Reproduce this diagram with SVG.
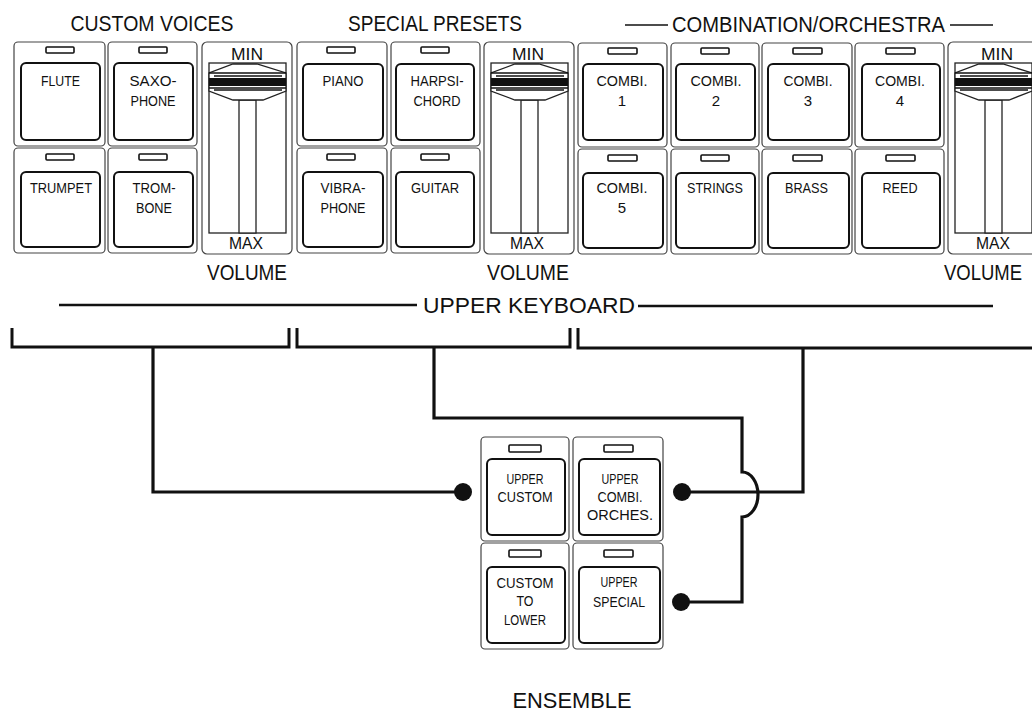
<svg xmlns="http://www.w3.org/2000/svg" width="1032" height="712" viewBox="0 0 1032 712">
<style>
text{font-family:"Liberation Sans",Arial,sans-serif;fill:#111;text-anchor:middle}
.h{font-size:22px}
.b{font-size:15px}
.m{font-size:17px}
.cell{fill:#fff;stroke:#444;stroke-width:1.2}
.btn{fill:#fff;stroke:#111;stroke-width:2}
.led{fill:#fff;stroke:#111;stroke-width:1.6}
.sl{fill:#fff;stroke:#222;stroke-width:1.3}
.ln{fill:none;stroke:#111;stroke-width:1.6}
.con{fill:none;stroke:#111;stroke-width:3.2;stroke-linejoin:miter}
.dot{fill:#111}
.brk{fill:none;stroke:#111;stroke-width:3}
.kb{fill:none;stroke:#111;stroke-width:2.6}
</style>
<defs>
<g id="slider">
<rect class="cell" x="0" y="0" width="90" height="212" rx="5"/>
<rect class="sl" x="7" y="21" width="77" height="170"/>
<rect class="sl" x="37" y="58" width="17" height="133"/>
<polygon class="sl" points="31,22 55,22 84,31 84,49 61,58 31,58 7,49 7,31"/>
<line class="ln" x1="7" y1="31" x2="84" y2="31" stroke-width="1.2"/>
<line class="ln" x1="12" y1="34" x2="80" y2="34" stroke-width="1"/>
<rect x="7" y="36" width="77" height="8" fill="#111"/>
<line class="ln" x1="7" y1="46" x2="84" y2="46" stroke-width="1.2"/>
<line class="ln" x1="12" y1="48" x2="80" y2="48" stroke-width="1"/>
</g>
</defs>

<g id="headers">
<text class="h" x="152" y="31" textLength="163" lengthAdjust="spacingAndGlyphs">CUSTOM VOICES</text>
<text class="h" x="435" y="31" textLength="174" lengthAdjust="spacingAndGlyphs">SPECIAL PRESETS</text>
<text class="h" x="808.5" y="32" textLength="273" lengthAdjust="spacingAndGlyphs">COMBINATION/ORCHESTRA</text>
<line class="ln" x1="625" y1="25" x2="668" y2="25"/>
<line class="ln" x1="950" y1="25" x2="993" y2="25"/>
</g>

<!-- CUSTOM VOICES -->
<g id="flute">
<rect class="cell" x="14" y="42" width="91" height="104" rx="4"/>
<rect class="led" x="46" y="47" width="28" height="6" rx="1"/>
<rect class="btn" x="21" y="63" width="79" height="77" rx="5"/>
<text class="b" x="60.5" y="86" textLength="39" lengthAdjust="spacingAndGlyphs">FLUTE</text>
</g>
<g id="saxophone">
<rect class="cell" x="108" y="42" width="89" height="104" rx="4"/>
<rect class="led" x="139" y="47" width="28" height="6" rx="1"/>
<rect class="btn" x="114" y="63" width="79" height="77" rx="5"/>
<text class="b" x="153" y="86" textLength="47" lengthAdjust="spacingAndGlyphs">SAXO-</text>
<text class="b" x="153" y="106" textLength="45" lengthAdjust="spacingAndGlyphs">PHONE</text>
</g>
<g id="trumpet">
<rect class="cell" x="14" y="148" width="91" height="105" rx="4"/>
<rect class="led" x="46" y="154" width="28" height="6" rx="1"/>
<rect class="btn" x="21" y="172" width="79" height="75" rx="5"/>
<text class="b" x="61" y="193" textLength="62" lengthAdjust="spacingAndGlyphs">TRUMPET</text>
</g>
<g id="trombone">
<rect class="cell" x="108" y="148" width="89" height="105" rx="4"/>
<rect class="led" x="139" y="154" width="28" height="6" rx="1"/>
<rect class="btn" x="114" y="172" width="79" height="75" rx="5"/>
<text class="b" x="154" y="193" textLength="43" lengthAdjust="spacingAndGlyphs">TROM-</text>
<text class="b" x="154" y="213" textLength="36" lengthAdjust="spacingAndGlyphs">BONE</text>
</g>
<g id="volume-custom">
<use href="#slider" x="202" y="42"/>
<text class="m" x="247" y="60" textLength="32" lengthAdjust="spacingAndGlyphs">MIN</text>
<text class="m" x="246" y="249" textLength="34" lengthAdjust="spacingAndGlyphs">MAX</text>
<text class="h" x="247" y="280" textLength="80" lengthAdjust="spacingAndGlyphs">VOLUME</text>
</g>

<!-- SPECIAL PRESETS -->
<g id="piano">
<rect class="cell" x="297" y="42" width="90" height="104" rx="4"/>
<rect class="led" x="327" y="47" width="28" height="6" rx="1"/>
<rect class="btn" x="303" y="64" width="80" height="76" rx="5"/>
<text class="b" x="343" y="86" textLength="41" lengthAdjust="spacingAndGlyphs">PIANO</text>
</g>
<g id="harpsichord">
<rect class="cell" x="391" y="42" width="89" height="104" rx="4"/>
<rect class="led" x="421" y="47" width="28" height="6" rx="1"/>
<rect class="btn" x="396" y="64" width="78" height="76" rx="5"/>
<text class="b" x="437" y="86" textLength="53" lengthAdjust="spacingAndGlyphs">HARPSI-</text>
<text class="b" x="437" y="106" textLength="47" lengthAdjust="spacingAndGlyphs">CHORD</text>
</g>
<g id="vibraphone">
<rect class="cell" x="297" y="148" width="90" height="105" rx="4"/>
<rect class="led" x="327" y="154" width="28" height="6" rx="1"/>
<rect class="btn" x="303" y="172" width="80" height="75" rx="5"/>
<text class="b" x="343" y="193" textLength="45" lengthAdjust="spacingAndGlyphs">VIBRA-</text>
<text class="b" x="343" y="213" textLength="45" lengthAdjust="spacingAndGlyphs">PHONE</text>
</g>
<g id="guitar">
<rect class="cell" x="391" y="148" width="89" height="105" rx="4"/>
<rect class="led" x="421" y="154" width="28" height="6" rx="1"/>
<rect class="btn" x="396" y="172" width="78" height="75" rx="5"/>
<text class="b" x="435" y="193" textLength="48" lengthAdjust="spacingAndGlyphs">GUITAR</text>
</g>
<g id="volume-special">
<use href="#slider" x="484" y="42"/>
<text class="m" x="528" y="60" textLength="32" lengthAdjust="spacingAndGlyphs">MIN</text>
<text class="m" x="527" y="249" textLength="34" lengthAdjust="spacingAndGlyphs">MAX</text>
<text class="h" x="528" y="280" textLength="82" lengthAdjust="spacingAndGlyphs">VOLUME</text>
</g>

<!-- COMBINATION / ORCHESTRA -->
<g id="combi1">
<rect class="cell" x="578" y="43" width="89" height="104" rx="4"/>
<rect class="led" x="608" y="48" width="29" height="6" rx="1"/>
<rect class="btn" x="583" y="64" width="80" height="76" rx="5"/>
<text class="b" x="622" y="86" textLength="51" lengthAdjust="spacingAndGlyphs">COMBI.</text>
<text class="b" x="622" y="106">1</text>
</g>
<g id="combi2">
<rect class="cell" x="671" y="43" width="88" height="104" rx="4"/>
<rect class="led" x="701" y="48" width="28" height="6" rx="1"/>
<rect class="btn" x="676" y="64" width="79" height="76" rx="5"/>
<text class="b" x="716" y="86" textLength="51" lengthAdjust="spacingAndGlyphs">COMBI.</text>
<text class="b" x="716" y="106">2</text>
</g>
<g id="combi3">
<rect class="cell" x="762" y="43" width="90" height="104" rx="4"/>
<rect class="led" x="793" y="48" width="29" height="6" rx="1"/>
<rect class="btn" x="768" y="64" width="81" height="76" rx="5"/>
<text class="b" x="808" y="86" textLength="49" lengthAdjust="spacingAndGlyphs">COMBI.</text>
<text class="b" x="808" y="106">3</text>
</g>
<g id="combi4">
<rect class="cell" x="855" y="43" width="89" height="104" rx="4"/>
<rect class="led" x="886" y="48" width="29" height="6" rx="1"/>
<rect class="btn" x="862" y="64" width="78" height="76" rx="5"/>
<text class="b" x="900" y="86" textLength="50" lengthAdjust="spacingAndGlyphs">COMBI.</text>
<text class="b" x="900" y="106">4</text>
</g>
<g id="combi5">
<rect class="cell" x="578" y="149" width="89" height="105" rx="4"/>
<rect class="led" x="608" y="155" width="29" height="6" rx="1"/>
<rect class="btn" x="583" y="173" width="80" height="75" rx="5"/>
<text class="b" x="622" y="193" textLength="51" lengthAdjust="spacingAndGlyphs">COMBI.</text>
<text class="b" x="622" y="213">5</text>
</g>
<g id="strings">
<rect class="cell" x="671" y="149" width="88" height="105" rx="4"/>
<rect class="led" x="701" y="155" width="28" height="6" rx="1"/>
<rect class="btn" x="676" y="173" width="79" height="75" rx="5"/>
<text class="b" x="715" y="193" textLength="56" lengthAdjust="spacingAndGlyphs">STRINGS</text>
</g>
<g id="brass">
<rect class="cell" x="762" y="149" width="90" height="105" rx="4"/>
<rect class="led" x="793" y="155" width="29" height="6" rx="1"/>
<rect class="btn" x="768" y="173" width="81" height="75" rx="5"/>
<text class="b" x="806.5" y="193" textLength="43" lengthAdjust="spacingAndGlyphs">BRASS</text>
</g>
<g id="reed">
<rect class="cell" x="855" y="149" width="89" height="105" rx="4"/>
<rect class="led" x="886" y="155" width="29" height="6" rx="1"/>
<rect class="btn" x="862" y="173" width="78" height="75" rx="5"/>
<text class="b" x="900" y="193" textLength="35" lengthAdjust="spacingAndGlyphs">REED</text>
</g>
<g id="volume-combi">
<use href="#slider" x="948" y="42"/>
<text class="m" x="997" y="60" textLength="32" lengthAdjust="spacingAndGlyphs">MIN</text>
<text class="m" x="993" y="249" textLength="34" lengthAdjust="spacingAndGlyphs">MAX</text>
<text class="h" x="983" y="280" textLength="78" lengthAdjust="spacingAndGlyphs">VOLUME</text>
</g>

<!-- UPPER KEYBOARD -->
<g id="upper-keyboard">
<line class="kb" x1="59" y1="305" x2="417" y2="305"/>
<line class="kb" x1="638" y1="306" x2="993" y2="306"/>
<text class="h" x="529" y="313" textLength="212" lengthAdjust="spacingAndGlyphs">UPPER KEYBOARD</text>
<path class="brk" d="M12 328 V347 H289 V328"/>
<path class="brk" d="M297 328 V347 H570 V328"/>
<path class="brk" d="M578 328 V348 H1034"/>
</g>

<!-- ENSEMBLE -->
<g id="upper-custom">
<rect class="cell" x="481" y="437" width="88" height="104" rx="4"/>
<rect class="led" x="509" y="445" width="32" height="7" rx="1"/>
<rect class="btn" x="487" y="459" width="78" height="76" rx="5"/>
<text class="b" x="525" y="484" textLength="37" lengthAdjust="spacingAndGlyphs">UPPER</text>
<text class="b" x="525" y="502" textLength="55" lengthAdjust="spacingAndGlyphs">CUSTOM</text>
</g>
<g id="upper-combi-orches">
<rect class="cell" x="573" y="437" width="90" height="104" rx="4"/>
<rect class="led" x="604" y="445" width="29" height="7" rx="1"/>
<rect class="btn" x="579" y="459" width="81" height="76" rx="5"/>
<text class="b" x="620" y="484" textLength="37" lengthAdjust="spacingAndGlyphs">UPPER</text>
<text class="b" x="620" y="502" textLength="45" lengthAdjust="spacingAndGlyphs">COMBI.</text>
<text class="b" x="620" y="520" textLength="66" lengthAdjust="spacingAndGlyphs">ORCHES.</text>
</g>
<g id="custom-to-lower">
<rect class="cell" x="481" y="543" width="88" height="106" rx="4"/>
<rect class="led" x="509" y="550" width="32" height="7" rx="1"/>
<rect class="btn" x="487" y="567" width="78" height="76" rx="5"/>
<text class="b" x="525" y="588" textLength="57" lengthAdjust="spacingAndGlyphs">CUSTOM</text>
<text class="b" x="525" y="606" textLength="17" lengthAdjust="spacingAndGlyphs">TO</text>
<text class="b" x="525" y="625" textLength="42" lengthAdjust="spacingAndGlyphs">LOWER</text>
</g>
<g id="upper-special">
<rect class="cell" x="573" y="543" width="90" height="106" rx="4"/>
<rect class="led" x="604" y="550" width="29" height="7" rx="1"/>
<rect class="btn" x="579" y="567" width="81" height="76" rx="5"/>
<text class="b" x="619" y="587" textLength="37" lengthAdjust="spacingAndGlyphs">UPPER</text>
<text class="b" x="619" y="607" textLength="52" lengthAdjust="spacingAndGlyphs">SPECIAL</text>
</g>
<g id="ensemble-label">
<text class="h" x="572" y="708" textLength="119" lengthAdjust="spacingAndGlyphs">ENSEMBLE</text>
</g>

<g id="connectors">
<path class="con" d="M153 347 V492 H462"/>
<circle class="dot" cx="463" cy="492" r="9"/>
<path class="con" d="M434 347 V418 H742 V472 A16 22.5 0 0 1 742 517 V602 H681"/>
<circle class="dot" cx="681" cy="602" r="9"/>
<path class="con" d="M803 347 V492 H682"/>
<circle class="dot" cx="682" cy="492" r="9"/>
</g>
</svg>
